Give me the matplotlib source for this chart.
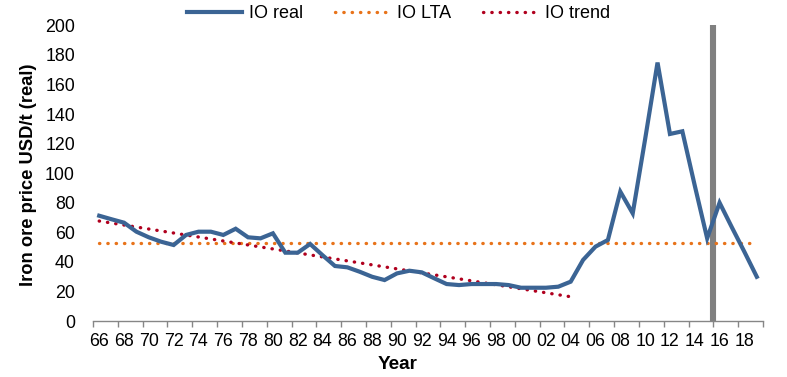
import matplotlib
matplotlib.use("Agg")
import matplotlib.pyplot as plt
from matplotlib.lines import Line2D

plt.rcParams['font.family'] = ['Liberation Sans', 'DejaVu Sans']

years = list(range(1966, 2020))
io_real = [71.2, 68.8, 66.5, 60.4, 56.6, 53.6, 51.4, 58.2, 60.4, 60.4,
           58.2, 62.4, 56.6, 55.9, 59.3, 46.2, 46.2, 52.1, 44.5, 37.2,
           36.3, 33.3, 29.9, 27.7, 32.2, 34.0, 32.9, 28.9, 25.0, 24.3,
           25.0, 25.0, 25.0, 24.3, 22.5, 22.5, 22.5, 23.2, 26.6, 41.3,
           50.3, 54.8, 87.5, 72.8, 123.0, 174.8, 126.5, 128.3, 91.6, 55.9,
           80.0, 63.2, 46.8, 29.9]
lta_years = [1966, 2019]
io_lta = [53.0, 53.0]
trend_years = [1966, 2004]
io_trend = [67.6, 16.4]
marker_year = 2015.5
tick_years = list(range(1966, 2019, 2))
tick_labels = [f"{y % 100:02d}" for y in tick_years]

c_real = "#3B6494"
c_lta = "#E8731A"
c_trend = "#B0001E"
c_axis = "#868686"

fig = plt.figure(figsize=(7.87, 3.77), dpi=100)
ax = fig.add_axes([93/787, 1 - 321/377, 670/787, 295.7/377])

ax.vlines(marker_year, 0, 200, color="#808080", lw=4.4, zorder=1)
ax.plot(lta_years, io_lta, color=c_lta, lw=2.4, linestyle=(0, (0.1, 2.4)),
        dash_capstyle='round', zorder=2)
ax.plot(trend_years, io_trend, color=c_trend, lw=2.4, linestyle=(0, (0.1, 2.4)),
        dash_capstyle='round', zorder=3)
ax.plot(years, io_real, color=c_real, lw=3.0, solid_joinstyle='miter', zorder=4)

ax.set_xlim(1965.5, 2019.5)
ax.set_ylim(0, 200)
ax.set_yticks(range(0, 201, 20))
ax.tick_params(axis='y', length=0, pad=13, labelsize=12.8)

ax.set_xticks(tick_years)
ax.set_xticklabels(tick_labels)
ax.set_xticks([1965.5 + 2 * k for k in range(28)], minor=True)
ax.tick_params(axis='x', which='major', length=0, pad=9, labelsize=12.8)
ax.tick_params(axis='x', which='minor', length=4.5, width=1, color=c_axis, direction='out')

for s in ['top', 'right', 'left']:
    ax.spines[s].set_visible(False)
ax.spines['bottom'].set_color(c_axis)
ax.spines['bottom'].set_linewidth(1)

ax.set_ylabel("Iron ore price USD/t (real)", fontsize=13.2, fontweight='bold')
ax.yaxis.set_label_coords(-0.083, 0.495)
ax.set_xlabel("Year", fontsize=13.6, fontweight='bold', va='top')
ax.xaxis.set_label_coords(0.4545, -0.119)

handles = [
    Line2D([], [], color=c_real, lw=3.0),
    Line2D([], [], color=c_lta, lw=2.4, linestyle=(0, (0.1, 2.4)), dash_capstyle='round'),
    Line2D([], [], color=c_trend, lw=2.4, linestyle=(0, (0.1, 2.4)), dash_capstyle='round'),
]
fig.legend(handles, ["IO real", "IO LTA", "IO trend"], loc='center',
           bbox_to_anchor=(398.5/787, 1 - 14/377), ncol=3, frameon=False,
           fontsize=13, handlelength=3.05, handletextpad=0.35, columnspacing=1.8,
           borderpad=0, borderaxespad=0)

fig.savefig("out.png", dpi=100)
